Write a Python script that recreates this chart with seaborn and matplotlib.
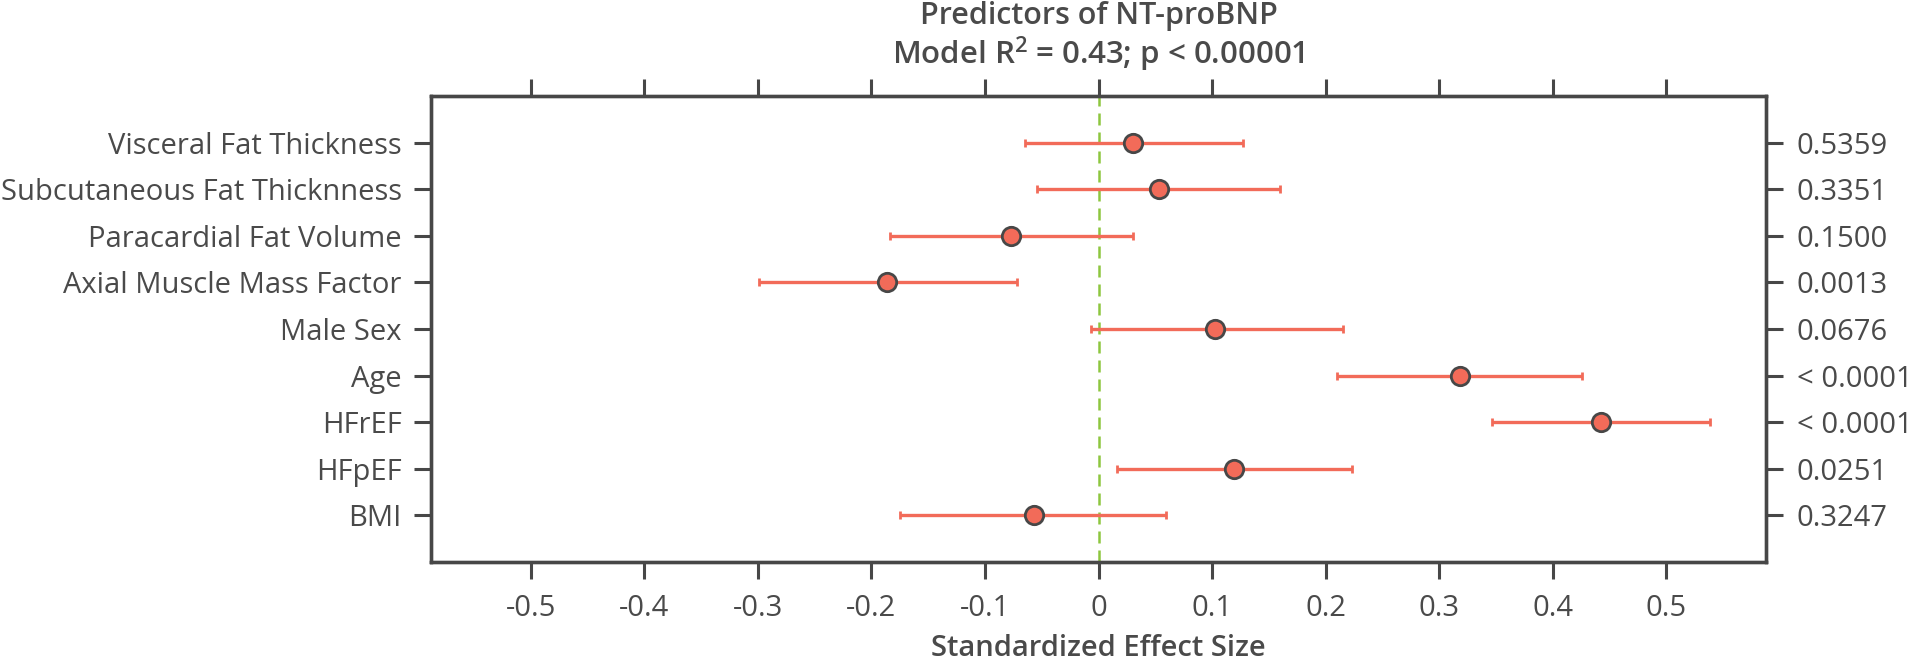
"""
Forest plot: predictors of NT-proBNP (standardized effect sizes with 95% CI).
"""

import numpy as np
import pandas as pd
import matplotlib
matplotlib.use("Agg")
import matplotlib.pyplot as plt
import seaborn as sns

# --- data ---
predictors = [
    "Visceral Fat Thickness",
    "Subcutaneous Fat Thicknness",
    "Paracardial Fat Volume",
    "Axial Muscle Mass Factor",
    "Male Sex",
    "Age",
    "HFrEF",
    "HFpEF",
    "BMI",
]
effect = [0.030, 0.053, -0.077, -0.186, 0.103, 0.318, 0.443, 0.119, -0.057]
ci_low = [-0.065, -0.054, -0.184, -0.299, -0.007, 0.210, 0.347, 0.016, -0.175]
ci_high = [0.127, 0.160, 0.030, -0.072, 0.215, 0.426, 0.539, 0.223, 0.059]
p_values = ["0.5359", "0.3351", "0.1500", "0.0013", "0.0676",
            "< 0.0001", "< 0.0001", "0.0251", "0.3247"]
x_ticks = [-0.5, -0.4, -0.3, -0.2, -0.1, 0, 0.1, 0.2, 0.3, 0.4, 0.5]

TEXT = "#4a4a4a"
SPINE = "#474747"
CORAL = "#f26b59"
GREEN = "#8dc63f"
FS = 21

sns.set_theme(style="ticks")
plt.rcParams["font.family"] = ["Open Sans", "DejaVu Sans"]
plt.rcParams["mathtext.fontset"] = "custom"
plt.rcParams["mathtext.rm"] = "Open Sans:semibold"
plt.rcParams["mathtext.it"] = "Open Sans:semibold"

df = pd.DataFrame({
    "predictor": predictors,
    "effect": effect,
    "low": ci_low,
    "high": ci_high,
})
df["pos"] = np.arange(len(df))

fig = plt.figure(figsize=(19.2, 6.62), dpi=100)
ax_box = [0.2245, 0.151, 0.6953, 0.704]
ax = fig.add_axes(ax_box)

ax.axvline(0, color=GREEN, lw=1.8, ls=(0, (4.8, 2.8)), zorder=1)

ax.errorbar(
    df["effect"], df["pos"],
    xerr=[df["effect"] - df["low"], df["high"] - df["effect"]],
    fmt="none", ecolor=CORAL, elinewidth=2.4, capsize=3, capthick=2, zorder=2,
)
sns.scatterplot(
    data=df, x="effect", y="pos", ax=ax, s=175, color=CORAL,
    edgecolor=SPINE, linewidth=2.0, zorder=3, legend=False,
)

ax.set_xlim(-0.588, 0.588)
ax.set_ylim(len(df), -1)
ax.set_xticks(x_ticks)
ax.set_xticklabels([("0" if v == 0 else f"{v:g}") for v in x_ticks])
ax.set_yticks(df["pos"])
ax.set_yticklabels(predictors)
ax.set_ylabel("")
ax.set_xlabel("")

ax.tick_params(axis="both", direction="out", length=12, width=2.2,
               color=SPINE, labelcolor=TEXT, labelsize=FS)
ax.tick_params(axis="x", top=True, labeltop=False, pad=11)
ax.tick_params(axis="y", pad=9)

ax2 = ax.twinx()
ax2.set_ylim(ax.get_ylim())
ax2.set_yticks(df["pos"])
ax2.set_yticklabels(p_values)
ax2.tick_params(axis="y", direction="out", length=12, width=2.2,
                color=SPINE, labelcolor=TEXT, labelsize=FS, pad=10)

for a in (ax, ax2):
    for sp in a.spines.values():
        sp.set_visible(True)
        sp.set_color(SPINE)
        sp.set_linewidth(2.4)

cx = ax_box[0] + ax_box[2] / 2
fig.text(cx, 1 - 16 / 662, "Predictors of NT-proBNP", ha="center", va="center",
         fontsize=22, fontweight="semibold", color=TEXT)
fig.text(cx, 1 - 54 / 662, r"Model R$^2$ = 0.43; p < 0.00001", ha="center",
         va="center", fontsize=22.5, fontweight="semibold", color=TEXT)
fig.text(cx, 1 - 648 / 662, "Standardized Effect Size", ha="center",
         va="center", fontsize=FS, fontweight="semibold", color=TEXT)

fig.savefig("out.png", dpi=100)
